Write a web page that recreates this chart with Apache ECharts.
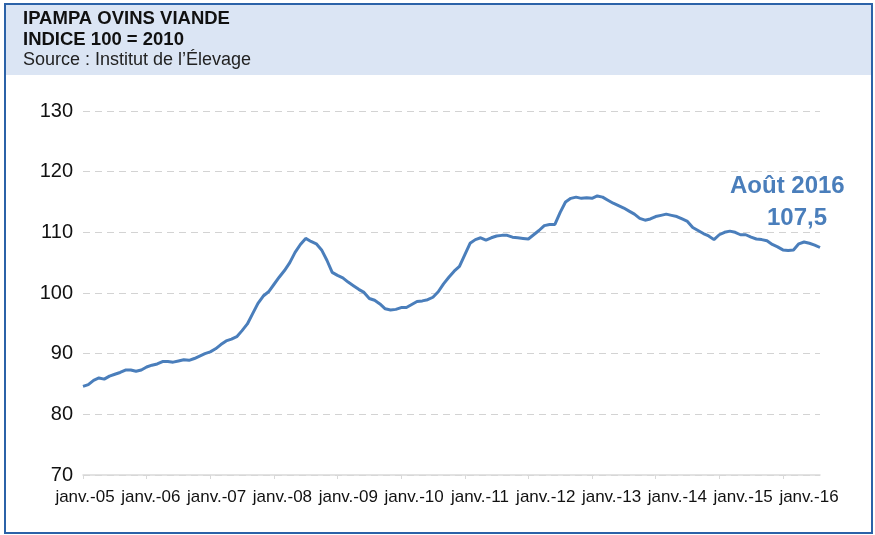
<!DOCTYPE html>
<html>
<head>
<meta charset="utf-8">
<script src="https://cdn.jsdelivr.net/npm/echarts@6/dist/echarts.min.js"></script>
<style>
  html, body { margin: 0; padding: 0; background: #fff; }
  #chart { width: 875px; height: 535px; }
</style>
</head>
<body>
<div id="chart"></div>
<script>
// IPAMPA ovins viande, indice 100 = 2010, monthly from janv. 2005 to août 2016
const MONTHS = ['janv.', 'févr.', 'mars', 'avr.', 'mai', 'juin', 'juil.', 'août', 'sept.', 'oct.', 'nov.', 'déc.'];
const FIRST_YEAR = 2005;

const ipampaValues = [
    84.6, 84.9, 85.6, 86.0, 85.8, 86.3, 86.6, 86.9, 87.3, 87.3, 87.1, 87.3,   // 2005
    87.8, 88.1, 88.3, 88.7, 88.7, 88.6, 88.8, 89.0, 88.9, 89.2, 89.6, 90.0,   // 2006
    90.3, 90.8, 91.5, 92.1, 92.4, 92.8, 93.8, 94.9, 96.6, 98.3, 99.5, 100.2,  // 2007
    101.4, 102.6, 103.7, 105.0, 106.7, 108.0, 109.0, 108.5, 108.1, 107.1, 105.4, 103.4, // 2008
    102.9, 102.5, 101.8, 101.2, 100.6, 100.1, 99.1, 98.8, 98.2, 97.4, 97.2, 97.3,     // 2009
    97.6, 97.6, 98.1, 98.6, 98.7, 98.9, 99.3, 100.2, 101.5, 102.6, 103.6, 104.4,      // 2010
    106.3, 108.2, 108.8, 109.1, 108.7, 109.1, 109.4, 109.5, 109.5, 109.2, 109.1, 109.0, // 2011
    108.9, 109.6, 110.3, 111.1, 111.3, 111.3, 113.3, 115.0, 115.6, 115.8, 115.6, 115.7, // 2012
    115.6, 116.0, 115.8, 115.3, 114.8, 114.4, 114.0, 113.5, 113.0, 112.3, 112.0, 112.2, // 2013
    112.6, 112.8, 113.0, 112.8, 112.6, 112.2, 111.8, 110.8, 110.3, 109.8, 109.4, 108.8, // 2014
    109.6, 110.0, 110.2, 110.0, 109.6, 109.6, 109.2, 108.9, 108.8, 108.6, 108.0, 107.6, // 2015
    107.1, 107.0, 107.1, 108.1, 108.4, 108.2, 107.9, 107.5                              // 2016
];

const categories = ipampaValues.map((v, i) => {
    const yr = FIRST_YEAR + Math.floor(i / 12);
    return MONTHS[i % 12] + '-' + String(yr).slice(2);
});

const tickLabels = ['janv.-05', 'janv.-06', 'janv.-07', 'janv.-08', 'janv.-09', 'janv.-10',
                    'janv.-11', 'janv.-12', 'janv.-13', 'janv.-14', 'janv.-15', 'janv.-16'];

const yTicks = { min: 70, max: 130, interval: 10 };

const titleLines = ['IPAMPA OVINS VIANDE', 'INDICE 100 = 2010', 'Source : Institut de l\u2019\u00c9levage'];
const noteLines = ['Août 2016', '107,5'];

const SANS = '"Liberation Sans", Arial, sans-serif';
const BLUE = '#4a7ebb';

const chart = echarts.init(document.getElementById('chart'), null, { renderer: 'canvas' });

const option = {
    animation: false,
    backgroundColor: '#fff',
    graphic: [
        {
            type: 'rect', z: -10,
            shape: { x: 5, y: 4, width: 867, height: 529 },
            style: { fill: '#fff', stroke: '#2b62a8', lineWidth: 2 }
        },
        {
            type: 'rect', z: -9,
            shape: { x: 6, y: 5, width: 865, height: 70 },
            style: { fill: '#dbe5f4' }
        },
        {
            type: 'text', left: 23, top: 9,
            style: { text: titleLines[0], font: 'bold 18.5px ' + SANS, fill: '#111' }
        },
        {
            type: 'text', left: 23, top: 30,
            style: { text: titleLines[1], font: 'bold 18.5px ' + SANS, fill: '#111' }
        },
        {
            type: 'text', left: 23, top: 51,
            style: { text: titleLines[2], font: '18px ' + SANS, fill: '#222' }
        },
        {
            type: 'text', left: 730, top: 174,
            style: { text: noteLines[0], font: 'bold 24px ' + SANS, fill: BLUE }
        },
        {
            type: 'text', left: 767, top: 206,
            style: { text: noteLines[1], font: 'bold 24px ' + SANS, fill: BLUE }
        }
    ],
    grid: [
        { left: 83, right: 55, top: 111, bottom: 60 },
        { left: 85, right: 66, top: 111, bottom: 60 }   // only carries the year labels
    ],
    xAxis: [
        {
            type: 'category',
            data: categories,
            boundaryGap: false,
            axisLine: { lineStyle: { color: '#d9d9d9', width: 1.5 } },
            axisTick: {
                show: true, length: 4,
                interval: (idx) => idx % 12 === 0,
                lineStyle: { color: '#d9d9d9' }
            },
            axisLabel: { show: false },
            splitLine: { show: false }
        },
        {
            type: 'category',
            gridIndex: 1,
            data: tickLabels,
            boundaryGap: false,
            axisLine: { show: false },
            axisTick: { show: false },
            axisLabel: {
                interval: 0, margin: 14,
                fontFamily: SANS, fontSize: 17, color: '#111'
            }
        }
    ],
    yAxis: [
        {
            type: 'value',
            min: yTicks.min, max: yTicks.max, interval: yTicks.interval,
            axisLine: { show: false },
            axisTick: { show: false },
            axisLabel: {
                margin: 10, fontFamily: SANS, fontSize: 20, color: '#111',
                padding: [0, 0, 8, 0]
            },
            splitLine: { lineStyle: { color: '#d3d3d3', width: 1.2, type: [7, 5] } }
        },
        { type: 'value', gridIndex: 1, show: false, min: 0, max: 1 }
    ],
    series: [
        {
            type: 'line',
            data: ipampaValues,
            showSymbol: false,
            lineStyle: { color: BLUE, width: 3 },
            itemStyle: { color: BLUE }
        }
    ]
};

chart.setOption(option);
</script>
</body>
</html>
